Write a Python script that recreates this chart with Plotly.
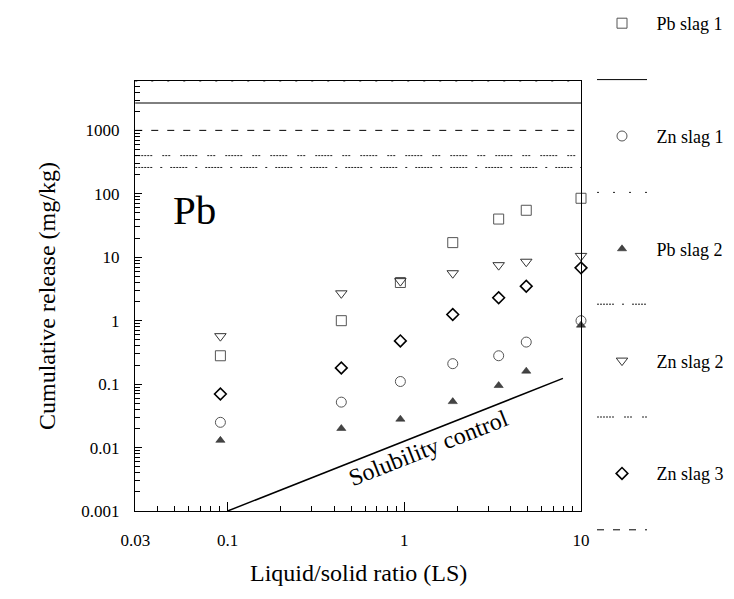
import plotly.graph_objects as go
import numpy as np

# ---- data ----
ls = [0.091, 0.44, 0.95, 1.88, 3.42, 4.9, 10]
pb_slag1 = [0.28, 1.0, 4.0, 17, 40, 55, 85]
zn_slag1 = [0.025, 0.052, 0.11, 0.21, 0.28, 0.46, 1.0]
pb_slag2 = [0.013, 0.020, 0.028, 0.053, 0.095, 0.16, 0.85]
zn_slag2 = [0.57, 2.7, 4.2, 5.6, 7.5, 8.5, 10.5]
zn_slag3 = [0.07, 0.18, 0.48, 1.25, 2.3, 3.5, 6.8]

# total contents (horizontal reference lines)
line_x = [0.03, 10]
total_pb_slag1 = 2700
total_zn_slag1 = 6000
total_pb_slag2 = 260
total_zn_slag2 = 400
total_zn_slag3 = 1000

sol_x = [0.1, 7.9]
sol_y = [0.001, 0.123]

x_ticks = [0.03, 0.1, 1, 10]
x_ticktext = ["0.03", "0.1", "1", "10"]
y_ticks = [0.001, 0.01, 0.1, 1, 10, 100, 1000]
y_ticktext = ["0.001", "0.01", "0.1", "1", "10", "100", "1000"]

FONT = "Liberation Serif"
NB = "\u00a0"

fig = go.Figure()

series = [
    ("Pb slag 1", pb_slag1, dict(symbol="square-open", size=10, color="#555555", line=dict(width=1, color="#555555")),
     total_pb_slag1, dict(color="black", width=1, dash="solid")),
    ("Zn slag 1", zn_slag1, dict(symbol="circle-open", size=10, color="#555555", line=dict(width=1, color="#555555")),
     total_zn_slag1, dict(color="#222222", width=1, dash="2px,14px")),
    ("Pb slag 2", pb_slag2, dict(symbol="triangle-up", size=8, color="#444444", line=dict(width=0.5, color="#222222")),
     total_pb_slag2, dict(color="#222222", width=1,
                          dash="2px,1px,2px,1px,2px,1px,2px,1px,2px,1px,2px,8px,2px,8px")),
    ("Zn slag 2", zn_slag2, dict(symbol="triangle-down-open", size=10, color="#333333", line=dict(width=1, color="#333333")),
     total_zn_slag2, dict(color="#222222", width=1,
                          dash="2px,1px,2px,1px,2px,1px,2px,1px,2px,1px,2px,10px,2px,1px,2px,1px,2px,10px")),
    ("Zn slag 3", zn_slag3, dict(symbol="diamond-open", size=9, color="black", line=dict(width=1.6, color="black")),
     total_zn_slag3, dict(color="black", width=1, dash="7px,9px")),
]

k = 0
for i, (name, vals, mk, tot, ln) in enumerate(series):
    fig.add_trace(go.Scatter(x=ls, y=vals, mode="markers", name=NB + name, marker=mk,
                             cliponaxis=False, legendgroup=f"m{i}",
                             legend="legend" if k < 5 else "legend2"))
    k += 1
    fig.add_trace(go.Scatter(x=line_x, y=[tot, tot], mode="lines", name=" ", line=ln,
                             legendgroup=f"l{i}", legend="legend" if k < 5 else "legend2"))
    k += 1

fig.add_trace(go.Scatter(x=sol_x, y=sol_y, mode="lines", line=dict(color="black", width=1.5),
                         showlegend=False))

fig.add_annotation(x=np.log10(1.37), y=np.log10(0.0097), xref="x", yref="y", text="Solubility control",
                   showarrow=False, textangle=-21.5, font=dict(family=FONT, size=24, color="black"))
fig.add_annotation(x=np.log10(0.065), y=np.log10(55), xref="x", yref="y", text="Pb",
                   showarrow=False, font=dict(family=FONT, size=41, color="black"))

fig.add_annotation(x=(24 - 127) / 446, y=0.5, xref="paper", yref="paper", text="Cumulative release (mg/kg)",
                   showarrow=False, textangle=-90, font=dict(family=FONT, size=24, color="black"))
fig.add_annotation(x=0.5, y=(503 - 580) / 430, xref="paper", yref="paper", text="Liquid/solid ratio (LS)",
                   showarrow=False, font=dict(family=FONT, size=24, color="black"))

minor_x = [v * m for v in [0.01, 0.1, 1] for m in range(2, 10) if 0.03 < v * m < 10]
minor_y = [v * m for v in [0.001, 0.01, 0.1, 1, 10, 100, 1000] for m in range(2, 10) if v * m < 6000]

fig.update_xaxes(type="log", range=[np.log10(0.0299), 1.0], tickmode="array", tickvals=x_ticks,
                 ticktext=x_ticktext, ticks="inside", ticklen=9, tickwidth=1, tickcolor="black",
                 ticklabelstandoff=14,
                 showline=True, linecolor="black", linewidth=1, mirror=True, showgrid=False, zeroline=False,
                 tickfont=dict(family=FONT, size=17, color="black"),
                 minor=dict(tickmode="array", tickvals=minor_x, ticks="inside", ticklen=5,
                            tickcolor="black", tickwidth=1, showgrid=False))
fig.update_yaxes(type="log", range=[-3, np.log10(6000)], tickmode="array", tickvals=y_ticks,
                 ticktext=y_ticktext, ticks="inside", ticklen=7, tickwidth=1, tickcolor="black",
                 ticklabelstandoff=11,
                 showline=True, linecolor="black", linewidth=1, mirror=True, showgrid=False, zeroline=False,
                 tickfont=dict(family=FONT, size=17, color="black"),
                 minor=dict(tickmode="array", tickvals=minor_y, ticks="inside", ticklen=5,
                            tickcolor="black", tickwidth=1, showgrid=False))

leg_common = dict(xanchor="left", yanchor="top", itemwidth=50,
                  font=dict(family=FONT, size=18, color="black"), tracegroupgap=30,
                  bgcolor="rgba(0,0,0,0)", borderwidth=0)

fig.update_layout(
    width=734, height=599,
    margin=dict(l=127, r=161, t=73, b=96, autoexpand=False),
    paper_bgcolor="white", plot_bgcolor="white",
    font=dict(family=FONT, size=17, color="black"),
    legend=dict(x=(584 - 127) / 446, y=1 + 76 / 430, **leg_common),
    legend2=dict(x=(584 - 127) / 446, y=(503 - 278) / 430, **leg_common),
)

fig.write_html("out.html")
